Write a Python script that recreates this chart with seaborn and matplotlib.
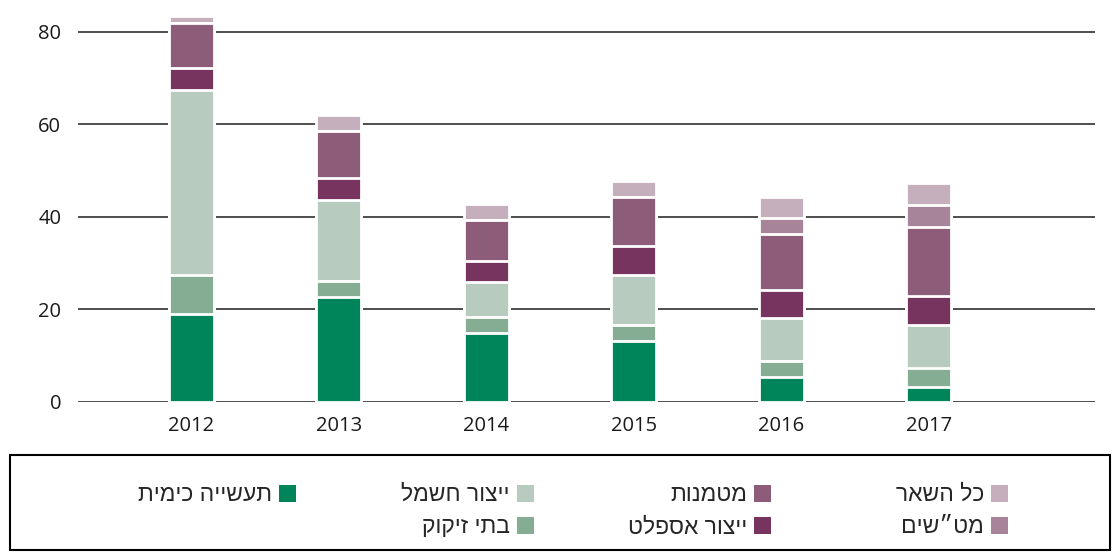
import matplotlib
matplotlib.use("Agg")
from matplotlib import pyplot as plt
from matplotlib.patches import Patch, Rectangle
import seaborn as sns
import numpy as np

years = ["2012", "2013", "2014", "2015", "2016", "2017"]

# series from the bottom of the stack to the top
chemical = [19.1, 22.6, 14.9, 13.1, 5.3, 3.2]
refineries = [8.3, 3.5, 3.4, 3.5, 3.5, 4.1]
electricity = [40.1, 17.6, 7.6, 10.8, 9.3, 9.3]
asphalt = [4.7, 4.7, 4.6, 6.2, 6.1, 6.2]
landfills = [9.7, 10.2, 8.8, 10.7, 12.1, 15.1]
wwtp = [0, 0, 0, 0, 3.5, 4.6]
other = [1.5, 3.5, 3.4, 3.5, 4.6, 4.8]

series_names = ["תעשייה כימית", "בתי זיקוק", "ייצור חשמל", "ייצור אספלט",
                "מטמנות", "מט״שים", "כל השאר"]
series_values = [chemical, refineries, electricity, asphalt, landfills, wwtp, other]
series_colors = ["#00845a", "#84ad93", "#b7cbbe", "#76345f",
                 "#8c5c78", "#a8849a", "#c6afbd"]

yticks = [0, 20, 40, 60, 80]


def rtl(s):
    # matplotlib has no bidi support, so Hebrew is reversed for display
    return s[::-1]


sns.set_style("white")
plt.rcParams["font.family"] = ["Open Sans", "DejaVu Sans"]

fig = plt.figure(figsize=(11.13, 5.55), dpi=100)
ax = fig.add_axes([0.070, 0.276, 0.914, 0.708])

# stacked bars: draw cumulative totals from the top series down
cum = np.cumsum(np.array(series_values), axis=0)
for i in range(len(series_values) - 1, -1, -1):
    sns.barplot(x=years, y=cum[i], color=series_colors[i], width=0.305,
                edgecolor="white", linewidth=2, saturation=1, ax=ax,
                zorder=3)

ax.set_ylim(0, 85)
ax.set_xlim(-0.77, 6.13)
ax.set_yticks(yticks)
ax.set_axisbelow(True)
ax.yaxis.grid(True, color="#1e1e1e", linewidth=1.1)
ax.xaxis.grid(False)
for s in ax.spines.values():
    s.set_visible(False)
ax.tick_params(axis="y", length=0, pad=12, labelsize=14.5, labelcolor="#1a1a1a")
ax.tick_params(axis="x", length=0, pad=10, labelsize=14.5, labelcolor="#1a1a1a")
ax.set_xlabel("")
ax.set_ylabel("")

# legend frame
fig.add_artist(Rectangle((10 / 1113, 5 / 555), 1100 / 1113, 95 / 555,
                         transform=fig.transFigure, fill=False,
                         edgecolor="black", linewidth=1.5))

# legend columns laid out right to left
columns = [[6, 5], [4, 3], [2, 1], [0]]
col_right = [1017 / 1113, 780 / 1113, 543 / 1113, 305 / 1113]
leg_font = ["Liberation Sans Narrow", "Liberation Sans", "DejaVu Sans"]
for idx, xr in zip(columns, col_right):
    handles = [Patch(facecolor=series_colors[k], edgecolor="none") for k in idx]
    labels = [rtl(series_names[k]) for k in idx]
    fig.legend(handles, labels, loc="upper right",
               bbox_to_anchor=(xr, 81 / 555), frameon=False,
               markerfirst=False, handlelength=0.75, handleheight=0.75,
               handletextpad=0.3, labelspacing=0.4, borderaxespad=0,
               prop={"family": leg_font, "size": 16.5})

fig.savefig("out.png", dpi=100)
